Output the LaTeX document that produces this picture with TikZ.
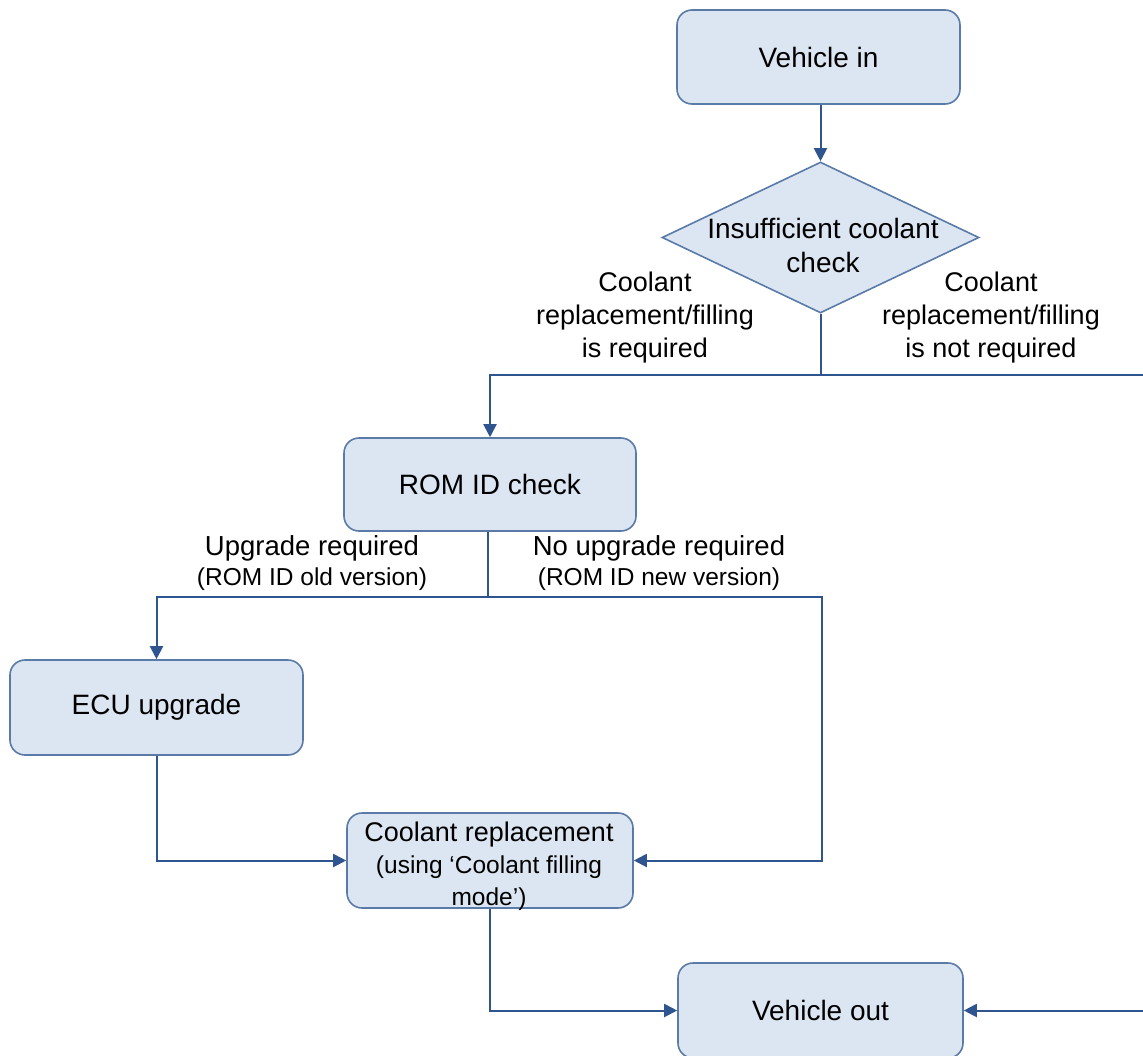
\documentclass[tikz,border=0pt]{standalone}
\usepackage{fontspec}
\setmainfont{Liberation Sans}
\usetikzlibrary{arrows.meta,shapes.geometric}
\definecolor{boxfill}{HTML}{DCE6F2}
\definecolor{boxline}{HTML}{5A7AA8}
\definecolor{conn}{HTML}{2F5590}
\tikzset{
  proc/.style={rectangle, rounded corners=15pt, draw=boxline, fill=boxfill, line width=1.6pt, inner sep=0pt, align=center, font=\fontsize{28}{32}\selectfont},
  dec/.style={diamond, draw=boxline, fill=boxfill, line width=1.6pt, inner sep=0pt},
  lab/.style={align=center, inner sep=0pt, font=\fontsize{27}{33}\selectfont},
  flow/.style={draw=conn, line width=2pt, -{Triangle[length=13pt,width=13pt]}},
  plain/.style={draw=conn, line width=2pt}
}
\begin{document}
\begin{tikzpicture}[x=1pt,y=-1pt]
\useasboundingbox (0,0) rectangle (1143,1055);
\node[proc, minimum width=283pt, minimum height=94pt] (vin) at (818.5,57) {Vehicle in};
\node[dec, minimum width=317pt, minimum height=151pt] (dia) at (820.5,237.5) {};
\node[lab, font=\fontsize{28}{34}\selectfont] (diat) at (823,245) {Insufficient coolant\\check};
\node[proc, minimum width=292pt, minimum height=93pt] (rom) at (490,484.5) {ROM ID check};
\node[proc, minimum width=293pt, minimum height=95pt] (ecu) at (156.5,707.5) {ECU upgrade};
\node[proc, minimum width=286pt, minimum height=95pt] (cool) at (490,860.5) {};
\node[lab, font=\fontsize{27}{32}\selectfont] (coolt) at (489,866) {Coolant replacement\\{\fontsize{24.5}{32}\selectfont (using ‘Coolant filling}\\{\fontsize{24.5}{32}\selectfont mode’)}};
\node[proc, minimum width=285pt, minimum height=95pt] (vout) at (820.5,1010.5) {Vehicle out};

\node[lab] (l1) at (645,318) {Coolant\\replacement/filling\\is required};
\node[lab] (l2) at (991,318) {Coolant\\replacement/filling\\is not required};
\node[lab, font=\fontsize{27.5}{30}\selectfont] (l3) at (312,563) {Upgrade required\\{\fontsize{24.5}{30}\selectfont (ROM ID old version)}};
\node[lab, font=\fontsize{27.5}{30}\selectfont] (l4) at (659,563) {No upgrade required\\{\fontsize{24.5}{30}\selectfont (ROM ID new version)}};

\coordinate (j1) at (820.5,375);
\coordinate (r1) at (1147,375);
\coordinate (j2) at (488,597);
\coordinate (j3) at (821.5,597);

\draw[flow] (vin.south -| dia.north) -- (dia.north);
\draw[plain] (dia.south) -- (j1);
\draw[flow] (j1) -| (rom.north);
\draw[flow] (j1) -- (r1) |- (vout.east);
\draw[plain] (rom.south -| j2) -- (j2);
\draw[flow] (j2) -| (ecu.north);
\draw[flow] (j2) -- (j3) |- (cool.east);
\draw[flow] (ecu.south) |- (cool.west);
\draw[flow] (cool.south) |- (vout.west);
\end{tikzpicture}
\end{document}
